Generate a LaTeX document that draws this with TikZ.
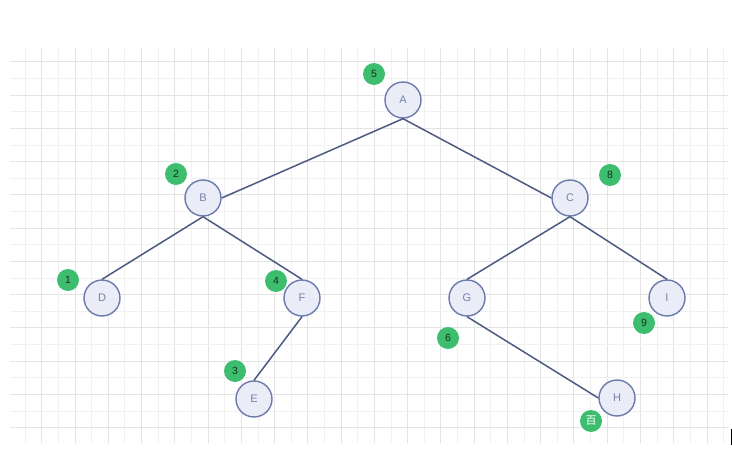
\documentclass[tikz,border=0pt]{standalone}
\usepackage{fontspec}
\setmainfont{Liberation Sans}
\newfontfamily\cjkfont{Noto Sans CJK SC}
\definecolor{gridminor}{HTML}{F1F1F1}
\definecolor{gridmajor}{HTML}{E4E4E4}
\definecolor{nodefill}{HTML}{EAEDF8}
\definecolor{nodeborder}{HTML}{6C7AAE}
\definecolor{edgecol}{HTML}{4D5A82}
\definecolor{nodetext}{HTML}{7582A8}
\definecolor{badgegreen}{HTML}{3DBE6E}
\definecolor{badgetext}{HTML}{17301F}
\begin{document}
\begin{tikzpicture}[x=1pt,y=-1pt,
  treenode/.style={circle,draw=nodeborder,fill=nodefill,line width=1.4pt,minimum size=36pt,inner sep=0pt,text=nodetext,font=\fontsize{11}{13}\selectfont},
  badge/.style={circle,fill=badgegreen,minimum size=22pt,inner sep=0pt,text=badgetext,font=\fontsize{10.5}{12}\selectfont},
  edge/.style={draw=edgecol,line width=1.5pt}]
\useasboundingbox (0,0) rectangle (732,471);
\fill[white] (0,0) rectangle (732,471);
% grid
\begin{scope}
\clip (10,48) rectangle (728,443);
\foreach \i in {0,...,43} {
  \draw[gridminor,line width=0.7pt] ({8.4+16.63*\i},48) -- ({8.4+16.63*\i},443);
}
\foreach \i in {0,...,21} {
  \draw[gridmajor,line width=0.8pt] ({41.7+33.26*\i},48) -- ({41.7+33.26*\i},443);
}
\foreach \i in {-1,...,23} {
  \draw[gridminor,line width=0.7pt] (10,{61.7+16.63*\i}) -- (728,{61.7+16.63*\i});
}
\foreach \i in {0,...,11} {
  \draw[gridmajor,line width=0.8pt] (10,{61.7+33.26*\i}) -- (728,{61.7+33.26*\i});
}
\end{scope}
% tree nodes
\node[treenode] (A) at (403,100) {A};
\node[treenode] (B) at (203,198) {B};
\node[treenode] (C) at (570,198) {C};
\node[treenode] (D) at (102,298) {D};
\node[treenode] (F) at (302,298) {F};
\node[treenode] (G) at (467,298) {G};
\node[treenode] (I) at (667,298) {I};
\node[treenode] (E) at (254,399) {E};
\node[treenode] (H) at (617,398) {H};
% edges
\draw[edge] (A.south) -- (B.east);
\draw[edge] (A.south) -- (C.west);
\draw[edge] (B.south) -- (D.north);
\draw[edge] (B.south) -- (F.north);
\draw[edge] (F.south) -- (E.north);
\draw[edge] (C.south) -- (G.north);
\draw[edge] (C.south) -- (I.north);
\draw[edge] (G.south) -- (H.west);
% badges
\node[badge] (n5) at (374,74) {5};
\node[badge] (n2) at (176,174) {2};
\node[badge] (n8) at (610,175) {8};
\node[badge] (n1) at (68,280) {1};
\node[badge] (n4) at (276,281) {4};
\node[badge] (n6) at (448,338) {6};
\node[badge] (n9) at (644,323) {9};
\node[badge] (n3) at (235,371) {3};
\node[badge,text=white,font=\cjkfont\fontsize{11}{12}\selectfont] (wm) at (591,421) {百};
% cursor mark
\coordinate (k1) at (731,429);
\coordinate (k2) at (731,445);
\draw[black,line width=1pt] (k1) -- (k2);
\end{tikzpicture}
\end{document}
